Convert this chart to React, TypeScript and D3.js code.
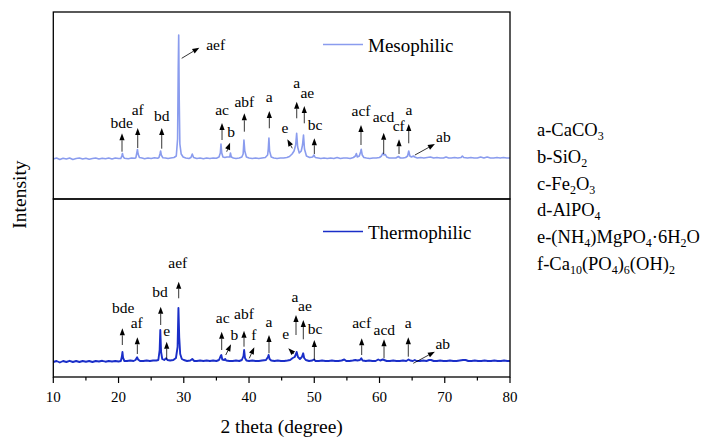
import React from "react";
import * as d3 from "d3";

// ---------- data ----------
const xTicks = [10, 20, 30, 40, 50, 60, 70, 80];
const xMinorTicks = [15, 25, 35, 45, 55, 65, 75];

// Mesophilic pattern: [2theta, intensity above baseline]
const mesophilic: [number, number][] = [
  [10, 0], [10.5, 1], [11, -0.5], [11.5, 0.8], [12, 0], [12.5, 1], [13, -0.5], [13.5, 0.5], [14, 1], [14.5, 0],
  [15, 0.8], [15.5, -0.3], [16, 0.5], [16.5, 1], [17, 0], [17.5, 0.8], [18, 0.2], [18.5, 1], [19, 0], [19.5, 1], [20, 0.5],
  [20.35, 0.5], [20.5, 3], [20.6, 5.5], [20.7, 2.5], [20.9, 0.8],
  [21.5, 0.3], [22, 1], [22.5, 0.8],
  [22.65, 1.2], [22.8, 6], [22.9, 9.5], [23.0, 5], [23.2, 1.5],
  [23.6, 1], [24, 0.3], [24.5, 1], [25, 0.5], [25.5, 1.2], [26, 0.8],
  [26.2, 1.5], [26.35, 5], [26.45, 8], [26.55, 4], [26.8, 1.2],
  [27.2, 1], [27.6, 0.5], [28, 1], [28.5, 1.5], [28.85, 3],
  [29.05, 20], [29.15, 90], [29.22, 124], [29.3, 60], [29.4, 15], [29.6, 5], [29.9, 2],
  [30.3, 1], [30.8, 0.5], [31.1, 1.5], [31.3, 5], [31.5, 1.5], [32, 0.5], [32.5, 1], [33, 0.3], [33.5, 1], [34, 0.5],
  [34.5, 1], [35, 0.8], [35.4, 2],
  [35.6, 6], [35.7, 15], [35.82, 6], [36.0, 2], [36.3, 1.5], [36.6, 2],
  [37.05, 2], [37.15, 6], [37.28, 2],
  [37.6, 1], [38, 0.5], [38.5, 1], [38.9, 2],
  [39.1, 5], [39.22, 19], [39.35, 8], [39.6, 2], [40, 1], [40.5, 0.5], [41, 1], [41.5, 0.5], [42, 1], [42.5, 1.5], [42.85, 4],
  [42.95, 10], [43.05, 21], [43.15, 8], [43.4, 2], [43.8, 1], [44.3, 0.5], [44.8, 1], [45.3, 1], [45.8, 1.5], [46.2, 2.5],
  [46.6, 5], [46.9, 8],
  [47.15, 14], [47.3, 25.7], [47.45, 12], [47.7, 6], [48.0, 8],
  [48.2, 14], [48.35, 24], [48.5, 10], [48.8, 3], [49.3, 1.5], [49.75, 2], [49.95, 4], [50.15, 1.5], [50.6, 1], [51, 0.5],
  [51.5, 1], [52, 0.5], [52.5, 1], [53, 0.5], [53.5, 1.5], [54, 0.5], [54.5, 1], [55, 1], [55.5, 0.5], [56, 1.5],
  [56.3, 3], [56.45, 5.5], [56.6, 2], [56.9, 3], [57.1, 7], [57.2, 9.7], [57.35, 4], [57.6, 1.5], [58, 1], [58.5, 0.5],
  [59, 1], [59.5, 1], [60, 1.5], [60.3, 3], [60.5, 5.7], [60.7, 4], [60.9, 4.5], [61.1, 2], [61.5, 1], [62, 1], [62.5, 1],
  [62.9, 2.5], [63.2, 1], [63.6, 1], [64, 1.5], [64.3, 3], [64.48, 8], [64.65, 3], [64.9, 2], [65.2, 3], [65.4, 2],
  [65.8, 1], [66.3, 1.5], [66.8, 1], [67.3, 1.5], [67.8, 2], [68.3, 1], [68.8, 1.5], [69.3, 1], [69.8, 1], [70.2, 2],
  [70.6, 1], [71, 1], [71.5, 1.5], [72, 1], [72.5, 1.5], [72.7, 3], [72.9, 1.5], [73.5, 1], [74, 1.5], [74.5, 1], [75, 1],
  [75.5, 2], [76, 1], [76.5, 2], [77, 1], [77.5, 1], [78, 1.5], [78.5, 1], [79, 1.5], [79.5, 1], [80, 1],
];

// Thermophilic pattern: [2theta, intensity above baseline]
const thermophilic: [number, number][] = [
  [10, 0], [10.5, 1], [11, -0.5], [11.5, 1], [12, 0], [12.5, 1.2], [13, 0], [13.5, 1], [14, 0], [14.5, 1], [15, 0.3],
  [15.5, 1], [16, 0], [16.5, 1], [17, 0.5], [17.5, 1.2], [18, 0.3], [18.5, 1], [19, 0.5], [19.5, 1], [20, 0.5], [20.35, 1],
  [20.5, 5], [20.6, 10], [20.7, 4], [20.9, 1],
  [21.3, 1], [21.8, 1.5], [22.3, 1], [22.6, 2], [22.85, 4.7], [23.0, 2.5], [23.3, 1], [23.8, 1], [24.3, 1.5], [24.8, 1],
  [25.3, 1.5], [25.8, 1.5], [26.1, 2],
  [26.3, 12], [26.4, 32], [26.52, 10], [26.7, 3], [27.0, 2], [27.3, 3.7], [27.5, 2], [27.9, 1.5], [28.4, 2], [28.8, 4],
  [29.05, 15], [29.18, 54], [29.3, 25], [29.45, 8], [29.7, 3], [30, 2], [30.5, 1], [31, 1.5], [31.3, 3], [31.6, 1],
  [32, 1], [32.5, 1.5], [33, 1], [33.5, 1.5], [34, 1], [34.5, 1.5], [35, 1], [35.4, 2],
  [35.65, 6], [35.75, 7], [35.9, 2.5], [36.2, 2], [36.35, 3], [36.5, 1.5], [37, 1], [37.5, 1], [38, 1.5], [38.5, 1], [38.9, 2],
  [39.15, 6], [39.25, 12], [39.38, 4], [39.6, 1.5], [40, 1], [40.5, 1.5], [41, 1], [41.5, 1], [42, 1.5], [42.6, 2],
  [42.9, 5], [43.0, 7], [43.15, 3], [43.4, 1.5], [43.9, 1], [44.4, 1.5], [44.9, 1], [45.4, 1], [45.9, 1.5], [46.3, 2],
  [46.7, 4], [47.0, 5],
  [47.2, 8], [47.3, 10], [47.5, 5], [47.8, 3], [48.1, 5], [48.3, 8.7], [48.45, 4], [48.7, 2], [49.2, 1], [49.7, 1.5],
  [49.95, 2.5], [50.2, 1], [50.7, 1], [51.2, 1.5], [51.7, 1], [52.2, 1], [52.7, 1.5], [53.2, 1], [53.7, 1], [54.2, 1.5],
  [54.6, 2.5], [54.9, 1], [55.4, 1], [55.9, 1.5], [56.3, 2], [56.6, 1.5], [57, 2], [57.2, 3.7], [57.4, 1.5], [57.9, 1],
  [58.4, 1.5], [58.9, 1], [59.4, 1], [59.8, 2.5], [60.1, 1.5], [60.5, 2.5], [60.7, 2], [61.1, 1], [61.6, 1], [62.1, 1.5],
  [62.6, 1], [63.1, 1], [63.6, 1.5], [64.1, 1], [64.45, 2.5], [64.7, 1.5], [65.1, 1], [65.4, 2], [65.7, 1], [66.2, 1],
  [66.7, 1.5], [67.2, 1], [67.6, 2], [67.9, 2], [68.3, 1], [68.8, 1], [69.3, 1.5], [69.8, 1], [70.3, 1], [70.8, 1.5],
  [71.3, 1], [71.8, 1], [72.3, 1.5], [72.8, 2], [73.2, 2], [73.6, 1], [74.1, 1], [74.6, 1.5], [75.1, 1], [75.6, 1],
  [76.1, 1.5], [76.6, 1], [77.1, 1], [77.6, 1.5], [78.1, 1], [78.6, 1], [79.1, 1.5], [79.6, 1], [80, 1],
];

// annotations: label, label position (theta, intensity), arrow from (theta, I) to (theta, I)
type Ann = { label: string; tx: number; ty: number; ax1: number; ay1: number; ax2: number; ay2: number };
const mesoAnnotations: Ann[] = [
  { label: "bde", tx: 20.48, ty: 31.3, ax1: 20.53, ay1: 7.3, ax2: 20.53, ay2: 25.7 },
  { label: "af", tx: 22.94, ty: 44, ax1: 22.94, ay1: 11, ax2: 22.94, ay2: 31 },
  { label: "bd", tx: 26.62, ty: 38.3, ax1: 26.62, ay1: 10.3, ax2: 26.62, ay2: 31 },
  { label: "aef", tx: 34.89, ty: 109, ax1: 29.68, ay1: 100.7, ax2: 32.38, ay2: 111.3 },
  { label: "ac", tx: 35.86, ty: 44, ax1: 35.86, ay1: 19, ax2: 35.86, ay2: 36 },
  { label: "b", tx: 37.24, ty: 22.3, ax1: 36.58, ay1: 7.3, ax2: 37.09, ay2: 16.3 },
  { label: "abf", tx: 39.28, ty: 52.3, ax1: 39.28, ay1: 27.3, ax2: 39.28, ay2: 45.7 },
  { label: "a", tx: 43.11, ty: 57.3, ax1: 43.11, ay1: 30.7, ax2: 43.11, ay2: 48 },
  { label: "e", tx: 45.52, ty: 25.7, ax1: 46.63, ay1: 10.7, ax2: 45.87, ay2: 19.7 },
  { label: "a", tx: 47.31, ty: 70.7, ax1: 47.31, ay1: 40.7, ax2: 47.31, ay2: 57.3 },
  { label: "ae", tx: 48.93, ty: 61.3, ax1: 48.47, ay1: 35.7, ax2: 48.47, ay2: 53 },
  { label: "bc", tx: 50.11, ty: 29, ax1: 50.01, ay1: 5, ax2: 50.01, ay2: 20.7 },
  { label: "acf", tx: 57.16, ty: 43.3, ax1: 57.16, ay1: 14, ax2: 57.16, ay2: 34 },
  { label: "acd", tx: 60.6, ty: 36.7, ax1: 60.64, ay1: 5, ax2: 60.64, ay2: 26.3 },
  { label: "cf", tx: 62.95, ty: 28, ax1: 62.99, ay1: 5, ax2: 62.99, ay2: 19.7 },
  { label: "a", tx: 64.52, ty: 44, ax1: 64.48, ay1: 15.7, ax2: 64.48, ay2: 35 },
  { label: "ab", tx: 69.78, ty: 17.3, ax1: 65.43, ay1: 4, ax2: 68.49, ay2: 15 },
];
const thermoAnnotations: Ann[] = [
  { label: "bde", tx: 20.73, ty: 48.7, ax1: 20.58, ay1: 17, ax2: 20.58, ay2: 33.7 },
  { label: "af", tx: 22.78, ty: 33.7, ax1: 22.88, ay1: 8, ax2: 22.88, ay2: 24.7 },
  { label: "bd", tx: 26.36, ty: 64.7, ax1: 26.46, ay1: 37, ax2: 26.46, ay2: 55.3 },
  { label: "e", tx: 27.38, ty: 26, ax1: 27.38, ay1: 2.7, ax2: 27.38, ay2: 20.3 },
  { label: "aef", tx: 29.07, ty: 94.3, ax1: 29.22, ay1: 63.7, ax2: 29.22, ay2: 80.3 },
  { label: "ac", tx: 35.97, ty: 38.7, ax1: 35.81, ay1: 12, ax2: 35.81, ay2: 30.3 },
  { label: "b", tx: 37.74, ty: 22, ax1: 36.43, ay1: 7, ax2: 37.24, ay2: 17.7 },
  { label: "abf", tx: 39.23, ty: 42.7, ax1: 39.23, ay1: 15.3, ax2: 39.23, ay2: 31.3 },
  { label: "f", tx: 40.72, ty: 22, ax1: 40.04, ay1: 3.7, ax2: 40.81, ay2: 14.7 },
  { label: "a", tx: 43.06, ty: 35.3, ax1: 43.06, ay1: 8.7, ax2: 43.06, ay2: 27 },
  { label: "e", tx: 45.62, ty: 22.7, ax1: 46.89, ay1: 8, ax2: 46.02, ay2: 13.7 },
  { label: "a", tx: 47.05, ty: 60.3, ax1: 47.2, ay1: 27, ax2: 47.2, ay2: 47 },
  { label: "ae", tx: 48.58, ty: 51, ax1: 48.32, ay1: 22.7, ax2: 48.32, ay2: 42 },
  { label: "bc", tx: 50.11, ty: 27.7, ax1: 50.01, ay1: 2, ax2: 50.01, ay2: 22 },
  { label: "acf", tx: 57.27, ty: 33.7, ax1: 57.27, ay1: 7, ax2: 57.27, ay2: 23.7 },
  { label: "acd", tx: 60.74, ty: 27, ax1: 60.69, ay1: 3.7, ax2: 60.69, ay2: 22.7 },
  { label: "a", tx: 64.41, ty: 34.3, ax1: 64.41, ay1: 5.3, ax2: 64.41, ay2: 24.7 },
  { label: "ab", tx: 69.69, ty: 12.7, ax1: 65.18, ay1: -1.3, ax2: 68.49, ay2: 10.3 },
];

const seriesNames = ["Mesophilic", "Thermophilic"];
const seriesColors = ["#8a9cee", "#1a2ec8"];
const seriesWidths = [1.6, 1.9];
// phase legend, "_{..}" marks subscripts
const phaseLegend = [
  "a-CaCO_{3}",
  "b-SiO_{2}",
  "c-Fe_{2}O_{3}",
  "d-AlPO_{4}",
  "e-(NH_{4})MgPO_{4}·6H_{2}O",
  "f-Ca_{10}(PO_{4})_{6}(OH)_{2}",
];

// ---------- layout ----------
const W = 706, H = 437;
const X0 = 53.3, X1 = 510;
const TOP = 12, MID = 199, BOT = 377;
const FONT = "Liberation Serif, Times New Roman, Times, DejaVu Serif, serif";

const x = d3.scaleLinear().domain([10, 80]).range([X0, X1]);
const yTop = d3.scaleLinear().domain([-40, 147]).range([MID, TOP]);
const yBot = d3.scaleLinear().domain([-15, 163]).range([BOT, MID]);

function parseFormula(s: string) {
  const parts: { t: string; sub: boolean }[] = [];
  const re = /_\{([^}]*)\}/g;
  let last = 0;
  let m: RegExpExecArray | null;
  while ((m = re.exec(s))) {
    if (m.index > last) parts.push({ t: s.slice(last, m.index), sub: false });
    parts.push({ t: m[1], sub: true });
    last = m.index + m[0].length;
  }
  if (last < s.length) parts.push({ t: s.slice(last), sub: false });
  return parts;
}

function Arrow({ x1, y1, x2, y2 }: { x1: number; y1: number; x2: number; y2: number }) {
  const ang = Math.atan2(y2 - y1, x2 - x1);
  const L = 7, hw = 2.6;
  const bx = x2 - L * Math.cos(ang), by = y2 - L * Math.sin(ang);
  const px = -Math.sin(ang) * hw, py = Math.cos(ang) * hw;
  return (
    <g>
      <line x1={x1} y1={y1} x2={bx} y2={by} stroke="#000" strokeWidth={0.8} />
      <path d={`M${x2},${y2}L${bx + px},${by + py}L${bx - px},${by - py}Z`} fill="#000" />
    </g>
  );
}

function Panel({ data, ann, y, color, name, width }: { data: [number, number][]; ann: Ann[]; y: d3.ScaleLinear<number, number>; color: string; name: string; width: number }) {
  const line = d3.line<[number, number]>().x((d) => x(d[0])).y((d) => y(d[1]));
  const legY = y.range()[1] + 32.5;
  return (
    <g>
      <path d={line(data) || ""} fill="none" stroke={color} strokeWidth={width} strokeLinejoin="round" />
      {ann.map((a, i) => (
        <g key={i}>
          <Arrow x1={x(a.ax1)} y1={y(a.ay1)} x2={x(a.ax2)} y2={y(a.ay2)} />
          <text x={x(a.tx)} y={y(a.ty)} textAnchor="middle" fontSize={15.5} style={{ fontFamily: FONT }} fill="#000">{a.label}</text>
        </g>
      ))}
      <line x1={323} x2={363} y1={legY} y2={legY} stroke={color} strokeWidth={1.5} />
      <text x={368} y={legY + 7} fontSize={19} style={{ fontFamily: FONT }} fill="#000">{name}</text>
    </g>
  );
}

export default function App() {
  return (
    <svg width={W} height={H} style={{ position: "absolute", left: 0, top: 0, background: "#fff", fontFamily: FONT }}>
      <rect x={0} y={0} width={W} height={H} fill="#fff" />
      <Panel data={mesophilic} ann={mesoAnnotations} y={yTop} color={seriesColors[0]} name={seriesNames[0]} width={seriesWidths[0]} />
      <Panel data={thermophilic} ann={thermoAnnotations} y={yBot} color={seriesColors[1]} name={seriesNames[1]} width={seriesWidths[1]} />
      <rect x={X0} y={TOP} width={X1 - X0} height={MID - TOP} fill="none" stroke="#000" strokeWidth={1.3} />
      <rect x={X0} y={MID} width={X1 - X0} height={BOT - MID} fill="none" stroke="#000" strokeWidth={1.3} />
      {xTicks.map((t) => (
        <g key={t}>
          <line x1={x(t)} x2={x(t)} y1={BOT} y2={BOT + 6} stroke="#000" strokeWidth={1.2} />
          <text x={x(t)} y={401.5} textAnchor="middle" fontSize={15} style={{ fontFamily: FONT }}>{t}</text>
        </g>
      ))}
      {xMinorTicks.map((t) => (
        <line key={t} x1={x(t)} x2={x(t)} y1={BOT} y2={BOT + 3.5} stroke="#000" strokeWidth={1.2} />
      ))}
      <text x={(X0 + X1) / 2} y={432.5} textAnchor="middle" fontSize={19.5} style={{ fontFamily: FONT }}>2 theta (degree)</text>
      <text transform={`translate(25.5,${(TOP + BOT) / 2}) rotate(-90)`} textAnchor="middle" fontSize={19.5} style={{ fontFamily: FONT }}>Intensity</text>
      {phaseLegend.map((s, i) => (
        <text key={i} x={537} y={136 + i * 26.8} fontSize={18.5} style={{ fontFamily: FONT }}>
          {parseFormula(s).map((p, j) =>
            p.sub ? (
              <tspan key={j} fontSize={12} dy={4}>{p.t}</tspan>
            ) : (
              <tspan key={j} dy={j > 0 && parseFormula(s)[j - 1].sub ? -4 : 0}>{p.t}</tspan>
            )
          )}
        </text>
      ))}
    </svg>
  );
}
